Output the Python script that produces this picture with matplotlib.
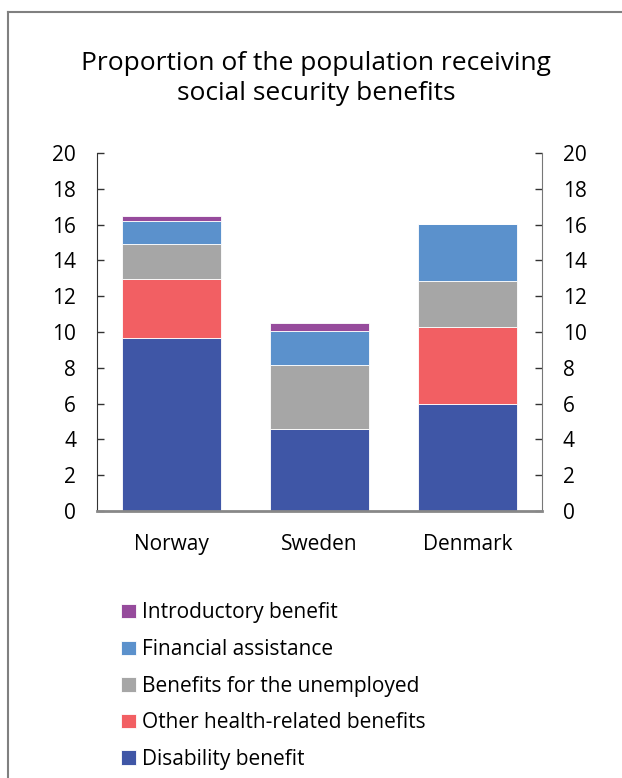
import numpy as np
import matplotlib.pyplot as plt
from matplotlib.lines import Line2D

plt.rcParams['font.family'] = ['Open Sans', 'DejaVu Sans']

countries = ['Norway', 'Sweden', 'Denmark']
series = ['Disability benefit', 'Other health-related benefits',
          'Benefits for the unemployed', 'Financial assistance',
          'Introductory benefit']
disability = [9.65, 4.56, 6.0]
other_health = [3.31, 0.0, 4.3]
unemployed = [1.96, 3.58, 2.55]
financial = [1.28, 1.90, 3.18]
introductory = [0.28, 0.45, 0.0]
colors = ['#3F56A6', '#F25F63', '#A6A6A6', '#5B91CC', '#964B9C']

fig = plt.figure(figsize=(6.22, 7.78), dpi=100)
ax = fig.add_axes([0.156, 0.3432, 0.715, 0.4601])

x = np.arange(len(countries))
bottom = np.zeros(len(countries))
handles = []
for name, vals, col in zip(series, [disability, other_health, unemployed, financial, introductory], colors):
    b = ax.bar(x, vals, width=0.667, bottom=bottom, color=col,
               edgecolor='white', linewidth=0.6, label=name)
    handles.append(b)
    bottom += np.array(vals)

ax.set_xlim(-0.5, 2.5)
ax.set_ylim(0, 20)
ax.set_yticks(range(0, 21, 2))
ax.set_xticks(x)
ax.set_xticklabels(countries)
ax.tick_params(axis='y', which='both', left=True, right=True, labelleft=True,
               labelright=True, direction='in', length=5, width=1,
               labelsize=15, pad=15, colors='#333333', labelcolor='black')
ax.tick_params(axis='x', length=0, labelsize=15, pad=16.5)

ax.spines['top'].set_visible(False)
ax.spines['left'].set_color('#333333')
ax.spines['right'].set_color('#777777')
ax.spines['bottom'].set_color('#888888')
ax.spines['bottom'].set_linewidth(2)

fig.text(0.508, 0.899, 'Proportion of the population receiving\nsocial security benefits',
         ha='center', va='center', fontsize=19, linespacing=1.25)

fig.legend(handles[::-1], series[::-1], loc='upper left',
           bbox_to_anchor=(0.1952, 0.2256), frameon=False, fontsize=15,
           handlelength=0.7, handleheight=0.7, handletextpad=0.3,
           labelspacing=0.75, borderpad=0, borderaxespad=0)

fig.add_artist(Line2D([0.0129, 1.0], [0.9846, 0.9846], transform=fig.transFigure,
                      color='#808080', lw=1.5))
fig.add_artist(Line2D([0.0129, 0.0129], [0.0, 0.9846], transform=fig.transFigure,
                      color='#808080', lw=1.5))

fig.savefig('out.png', dpi=100)
